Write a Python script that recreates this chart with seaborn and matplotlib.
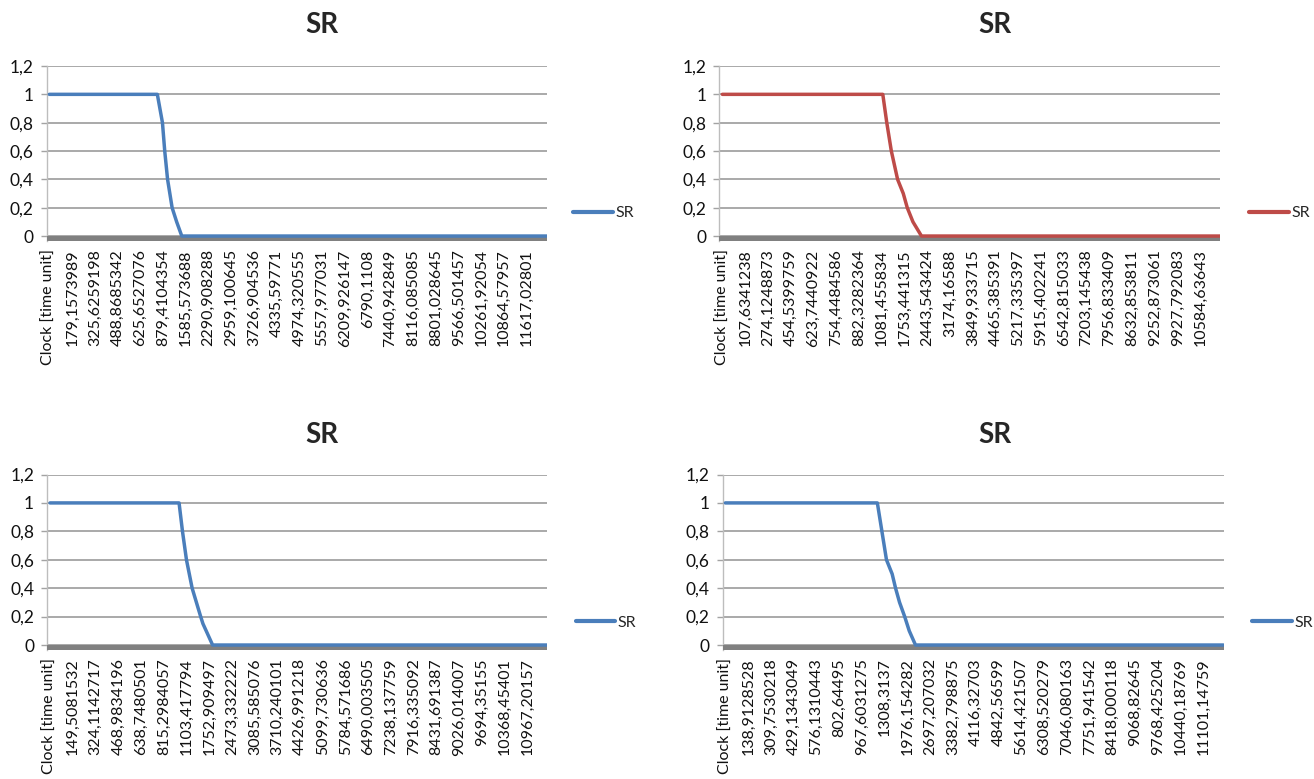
import matplotlib
matplotlib.use("Agg")
import matplotlib.pyplot as plt
from matplotlib.lines import Line2D
import seaborn as sns
import pandas as pd

# Clock readings printed under every 40th row of each run
clock_run1 = ["Clock [time unit]", "179,1573989", "325,6259198", "488,8685342", "625,6527076",
              "879,4104354", "1585,573688", "2290,908288", "2959,100645", "3726,904536",
              "4335,59771", "4974,320555", "5557,977031", "6209,926147", "6790,1108",
              "7440,942849", "8116,085085", "8801,028645", "9566,501457", "10261,92054",
              "10864,57957", "11617,02801"]
clock_run2 = ["Clock [time unit]", "107,6341238", "274,1248873", "454,5399759", "623,7440922",
              "754,4484586", "882,3282364", "1081,455834", "1753,441315", "2443,543424",
              "3174,16588", "3849,933715", "4465,385391", "5217,335397", "5915,402241",
              "6542,815033", "7203,145438", "7956,833409", "8632,853811", "9252,873061",
              "9927,792083", "10584,63643"]
clock_run3 = ["Clock [time unit]", "149,5081532", "324,1142717", "468,9834196", "638,7480501",
              "815,2984057", "1103,417794", "1752,909497", "2473,332222", "3085,585076",
              "3710,240101", "4426,991218", "5099,730636", "5784,571686", "6490,003505",
              "7238,137759", "7916,335092", "8431,691387", "9026,014007", "9694,35155",
              "10368,45401", "10967,20157"]
clock_run4 = ["Clock [time unit]", "138,9128528", "309,7530218", "429,1343049", "576,1310443",
              "802,64495", "967,6031275", "1308,3137", "1976,154282", "2697,207032",
              "3382,798875", "4116,32703", "4842,56599", "5614,421507", "6308,520279",
              "7046,080163", "7751,941542", "8418,000118", "9068,82645", "9768,425204",
              "10440,18769", "11101,14759"]

# SR series: row index of the sheet and the survival ratio at that row
rows_run1 = [0, 190, 199, 203, 208, 216, 224, 233, 875]
sr_run1 = [1.0, 1.0, 0.8, 0.6, 0.4, 0.2, 0.1, 0.0, 0.0]

rows_run2 = [0, 282, 289, 297, 308, 318, 325, 335, 350, 875]
sr_run2 = [1.0, 1.0, 0.8, 0.6, 0.4, 0.3, 0.2, 0.1, 0.0, 0.0]

rows_run3 = [0, 227, 233, 240, 250, 265, 269, 286, 875]
sr_run3 = [1.0, 1.0, 0.8, 0.6, 0.4, 0.2, 0.15, 0.0, 0.0]

rows_run4 = [0, 267, 275, 283, 293, 299, 306, 315, 323, 334, 875]
sr_run4 = [1.0, 1.0, 0.8, 0.6, 0.5, 0.4, 0.3, 0.2, 0.1, 0.0, 0.0]

y_ticks = [0, 0.2, 0.4, 0.6, 0.8, 1.0, 1.2]
y_tick_labels = ["0", "0,2", "0,4", "0,6", "0,8", "1", "1,2"]

series_name = "SR"

sns.set_theme(style="white")
plt.rcParams["font.family"] = ["Lato", "DejaVu Sans"]

W, H = 1314, 779
fig = plt.figure(figsize=(W / 100, H / 100), dpi=100)
fig.patch.set_facecolor("white")

BLUE = "#4A7EBB"
RED = "#BE4B48"
FLOOR = -0.035

panels = [
    # (axes rect in pixels: left, top, right, bottom), title centre, legend anchor, data
    dict(box=(46.5, 66, 546.7, 241), title=(322, 25), leg=(573, 213),
         rows=rows_run1, sr=sr_run1, labels=clock_run1, color=BLUE),
    dict(box=(719.5, 66, 1220.2, 241), title=(995, 25), leg=(1249, 213),
         rows=rows_run2, sr=sr_run2, labels=clock_run2, color=RED),
    dict(box=(47.2, 474.5, 547.4, 650), title=(322, 435), leg=(575.5, 623),
         rows=rows_run3, sr=sr_run3, labels=clock_run3, color=BLUE),
    dict(box=(722.5, 474.5, 1223.5, 650), title=(995, 435), leg=(1252, 623),
         rows=rows_run4, sr=sr_run4, labels=clock_run4, color=BLUE),
]

for p in panels:
    l, t, r, b = p["box"]
    ax = fig.add_axes([l / W, 1 - b / H, (r - l) / W, (b - t) / H])
    df = pd.DataFrame({"row": p["rows"], series_name: p["sr"]})
    sns.lineplot(data=df, x="row", y=series_name, ax=ax, color=p["color"],
                 linewidth=2.5, legend=False, zorder=5, solid_joinstyle="round")

    ax.set_xlim(-5, 875)
    ax.set_ylim(FLOOR, 1.2)
    # dark floor strip beneath the zero line
    ax.axhspan(FLOOR, 0, color="#808080", lw=0, zorder=3)

    ax.set_yticks(y_ticks)
    ax.set_yticklabels(y_tick_labels)
    ax.yaxis.grid(True, color="#A3A3A3", linewidth=1.3)
    ax.xaxis.grid(False)
    ax.set_axisbelow(True)

    ax.set_xticks(list(range(0, 40 * len(p["labels"]), 40)))
    ax.set_xticklabels(p["labels"], rotation=90, ha="center", va="top")
    ax.tick_params(axis="x", length=0, pad=6, labelsize=11.5, colors="#111111")
    ax.tick_params(axis="y", left=True, length=4.5, width=1, color="#A3A3A3",
                   pad=5, labelsize=12.5, labelcolor="#111111")
    ax.set_xlabel("")
    ax.set_ylabel("")

    for side in ("top", "right", "bottom"):
        ax.spines[side].set_visible(False)
    ax.spines["left"].set_color("#BDBDBD")
    ax.spines["left"].set_linewidth(1.0)
    ax.patch.set_alpha(0)

    handle = Line2D([], [], color=p["color"], linewidth=3)
    lx, ly = p["leg"]
    ax.legend([handle], [series_name], loc="center left",
              bbox_to_anchor=(lx / W, 1 - ly / H), bbox_transform=fig.transFigure,
              frameon=False, borderpad=0, borderaxespad=0, handlelength=2.5,
              handletextpad=0.15, fontsize=11.5)

    tx, ty = p["title"]
    fig.text(tx / W, 1 - ty / H, series_name, ha="center", va="center",
             fontsize=20, fontweight="bold")

fig.savefig("out.png", dpi=100, facecolor="white")
